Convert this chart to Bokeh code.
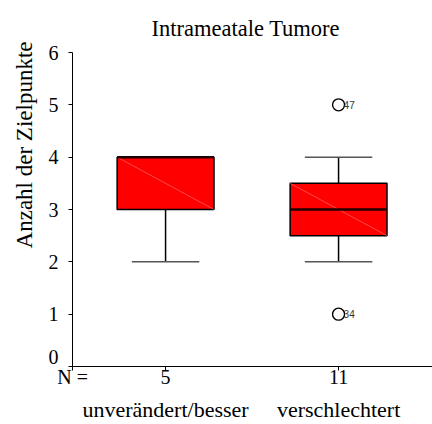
from bokeh.plotting import figure
from bokeh.models import Range1d, FixedTicker, LinearAxis, Title, ColumnDataSource
from bokeh.embed import file_html
from bokeh.resources import INLINE
from bokeh.core.properties import value

# data
categories = ["unverändert/besser", "verschlechtert"]
n_counts = ["5", "11"]
n_prefix = "N ="
positions = [1, 2]
q1 = [3.0, 2.5]
median = [4.0, 3.0]
q3 = [4.0, 3.5]
whisk_low = [2.0, 2.0]
whisk_high = [4.0, 4.0]
outlier_pos = [2, 2]
outlier_vals = [5.0, 1.0]
outlier_ids = ["47", "34"]
y_ticks = [0, 1, 2, 3, 4, 5, 6]
y_tick_labels = ["0", "1", "2", "3", "4", "5", "6"]

SERIF = "Liberation Serif"
box_w = 0.56
cap_w = 0.39
x_start, x_end = 0.462, 2.543
zero_label_lift = 0.19  # SPSS draws the "0" label raised above the x axis

p = figure(width=432, height=424, output_backend="svg", toolbar_location=None,
           x_range=Range1d(x_start, x_end), y_range=Range1d(0, 6),
           min_border_left=72, min_border_right=0, min_border_top=52, min_border_bottom=56,
           x_axis_location=None, y_axis_location="left")
p.outline_line_color = None
p.grid.grid_line_color = None

p.title.text = "Intrameatale Tumore"
p.title.align = "left"
p.title.offset = 79
p.title.standoff = 23
p.title.text_font = SERIF
p.title.text_font_style = "normal"
p.title.text_font_size = "22.5px"
p.title.text_color = "black"

label_ticks = [zero_label_lift] + y_ticks[1:]
yax = p.yaxis[0]
yax.ticker = FixedTicker(ticks=label_ticks, minor_ticks=y_ticks)
yax.major_label_overrides = {t: lab for t, lab in zip(label_ticks, y_tick_labels)}
yax.major_label_text_font = SERIF
yax.major_label_text_font_size = "20px"
yax.major_label_text_color = "black"
yax.major_tick_in = 0
yax.major_tick_out = 0
yax.minor_tick_out = 4
yax.minor_tick_in = 0
yax.minor_tick_line_color = "black"
yax.axis_line_color = "black"
yax.major_label_standoff = 10

ylab = Title(text="Anzahl der Zielpunkte", align="right", text_font=SERIF,
             text_font_size="23px", text_font_style="normal", text_color="black",
             standoff=18, offset=-11)
p.add_layout(ylab, "left")

xticks = [x_start + 0.0005] + positions
xax = LinearAxis(ticker=FixedTicker(ticks=xticks),
                 major_label_overrides={**{xticks[0]: n_prefix},
                                        **{pos: n for pos, n in zip(positions, n_counts)}})
xax.major_label_text_font = SERIF
xax.major_label_text_font_size = "20px"
xax.major_label_text_color = "black"
xax.major_tick_in = 0
xax.major_tick_out = 4
xax.minor_tick_out = 0
xax.minor_tick_in = 0
xax.axis_line_color = "black"
xax.major_label_standoff = -5
p.add_layout(xax, "below")

xax2 = LinearAxis(ticker=FixedTicker(ticks=positions),
                  major_label_overrides={pos: c for pos, c in zip(positions, categories)})
xax2.major_label_text_font = SERIF
xax2.major_label_text_font_size = "22px"
xax2.major_label_text_color = "black"
xax2.axis_line_color = None
xax2.major_tick_line_color = None
xax2.minor_tick_line_color = None
xax2.major_label_standoff = 0
p.add_layout(xax2, "below")

src = ColumnDataSource(dict(x=positions, q1=q1, med=median, q3=q3, lo=whisk_low, hi=whisk_high,
                            left=[x - box_w / 2 for x in positions],
                            right=[x + box_w / 2 for x in positions],
                            cl=[x - cap_w / 2 for x in positions],
                            cr=[x + cap_w / 2 for x in positions]))

# whiskers
p.segment(x0="x", y0="lo", x1="x", y1="q1", source=src, line_color="black", line_width=1.5)
p.segment(x0="x", y0="q3", x1="x", y1="hi", source=src, line_color="black", line_width=1.5)
p.segment(x0="cl", y0="lo", x1="cr", y1="lo", source=src, line_color="#555555", line_width=1.5)
p.segment(x0="cl", y0="hi", x1="cr", y1="hi", source=src, line_color="#555555", line_width=1.5)

# boxes
p.quad(left="left", right="right", bottom="q1", top="q3", source=src,
       fill_color="#ff0000", line_color="black", line_width=1.5)
p.segment(x0="left", y0="q3", x1="right", y1="q1", source=src, line_color="#ff7a7a", line_width=0.6)
p.segment(x0="left", y0="med", x1="right", y1="med", source=src, line_color="#200000", line_width=2.5)

# outliers
osrc = ColumnDataSource(dict(x=outlier_pos, y=outlier_vals, t=outlier_ids))
p.scatter(x="x", y="y", source=osrc, marker="circle", size=12, fill_color=None,
          line_color="black", line_width=1.4)
p.text(x="x", y="y", text="t", source=osrc, x_offset=5, text_font=value("Liberation Sans"),
       text_font_size="10px", text_baseline="middle", text_align="left", text_color="#333333")

open("out.html", "w").write(file_html(p, INLINE))
